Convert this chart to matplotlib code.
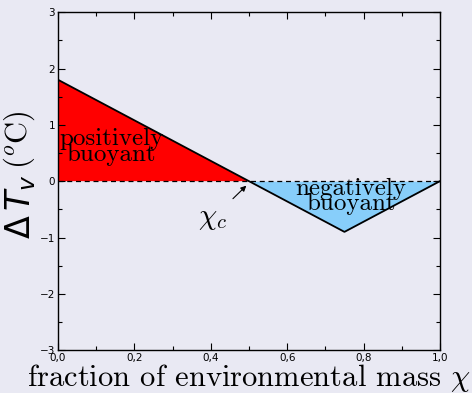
import matplotlib
matplotlib.use("Agg")
import matplotlib.pyplot as plt
from matplotlib.ticker import MultipleLocator, FuncFormatter

# buoyancy of a mixed parcel vs. fraction of entrained environmental air
chi = [0.0, 0.5, 0.75, 1.0]
dTv = [1.8, 0.0, -0.9, 0.0]
chi_c = 0.5

plt.rcParams['mathtext.fontset'] = 'cm'
bg = '#e9e9f3'

fig = plt.figure(figsize=(4.72, 3.93), dpi=100, facecolor=bg)
ax = fig.add_axes([0.123, 0.109, 0.809, 0.86], facecolor=bg)

ax.fill_between(chi, dTv, 0, where=[v >= 0 for v in dTv], interpolate=True,
                color='red', lw=0)
ax.fill_between(chi, dTv, 0, where=[v <= 0 for v in dTv], interpolate=True,
                color='#87cefa', lw=0)
ax.plot(chi, dTv, color='black', lw=1.3)
ax.plot([0, 1], [0, 0], color='black', lw=0.9, ls=(0, (4, 3)))

serif = dict(family='cmr10', fontsize=18, ha='center', va='center',
             clip_on=False)
ax.text(0.14, 0.75, 'positively', **serif)
ax.text(0.14, 0.46, 'buoyant', **serif)
ax.text(0.767, -0.14, 'negatively', **serif)
ax.text(0.767, -0.41, 'buoyant', **serif)

ax.annotate(r'$\chi_c$', xy=(chi_c - 0.007, -0.08), xytext=(0.405, -0.66),
            fontsize=21, ha='center', va='center',
            arrowprops=dict(arrowstyle='-|>', color='black', lw=0.8,
                            mutation_scale=8, shrinkA=3, shrinkB=0))

ax.set_xlim(0, 1)
ax.set_ylim(-3, 3)
ax.xaxis.set_major_locator(MultipleLocator(0.2))
ax.xaxis.set_minor_locator(MultipleLocator(0.1))
ax.yaxis.set_major_locator(MultipleLocator(1))
ax.yaxis.set_minor_locator(MultipleLocator(0.5))
ax.xaxis.set_major_formatter(FuncFormatter(lambda v, p: f'{v:.1f}'.replace('.', ',')))
ax.yaxis.set_major_formatter(FuncFormatter(lambda v, p: f'{v:.0f}'.replace('-', '\u2212')))
ax.tick_params(which='both', direction='in', top=True, right=True, labelsize=7.5,
               width=0.8, pad=2)
ax.tick_params(which='major', length=5)
ax.tick_params(which='minor', length=3)
for s in ax.spines.values():
    s.set_linewidth(1.0)

ax.set_xlabel(r'fraction of environmental mass $\chi$', family='cmr10',
              fontsize=22, labelpad=-1)

# y label: sans Delta T_v followed by serif (oC)
fig.text(0.044, 0.475, r'$\Delta\,T_v$', rotation=90, ha='center', va='center',
         fontsize=24, math_fontfamily='dejavusans')
fig.text(0.040, 0.645, r'$(^o\mathrm{C})$', rotation=90, ha='center', va='center',
         fontsize=22)

fig.savefig('out.png', dpi=100, facecolor=bg)
